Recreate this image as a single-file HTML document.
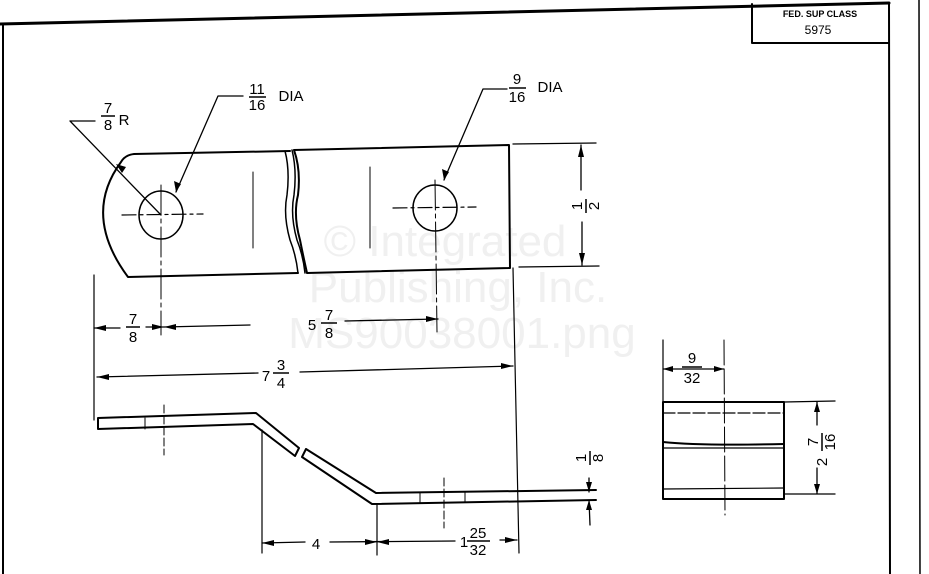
<!DOCTYPE html>
<html><head><meta charset="utf-8"><style>
html,body{margin:0;padding:0;background:#fff;}
svg{display:block;}
text{font-family:"Liberation Sans",sans-serif;fill:#000;}
</style></head><body>
<svg width="929" height="574" viewBox="0 0 929 574" xmlns="http://www.w3.org/2000/svg">
<!-- watermark -->
<g font-size="44" text-anchor="middle">
<text x="445" y="256" style="fill:#f0f0f0">© Integrated</text>
<text x="458" y="302" style="fill:#f0f0f0">Publishing, Inc.</text>
<text x="462" y="348" style="fill:#f0f0f0">MS90038001.png</text>
</g>
<g stroke="#000" fill="none" stroke-linecap="round" stroke-linejoin="round">
<path d="M0,24 L889,3" stroke-width="3"/>
<path d="M3,24 L3,574" stroke-width="2"/>
<path d="M889,3 L890,574" stroke-width="2"/>
<path d="M919,0 L920,574" stroke-width="1.5"/>
<path d="M752,4 L752,43 L889,43" stroke-width="2"/>

<path d="M290,151 L134,154 Q125,155 121,162 Q82,215 128,277 L298,273" stroke-width="2"/>
<path d="M285,151 Q290,170 287,195 Q283,215 290,240 Q296,255 298,273" stroke-width="1.5"/>
<path d="M292,150 Q297,170 294,195 Q290,215 297,240 Q303,255 305,273" stroke-width="1.5"/>
<path d="M294,150 L509,145 L510,268 L307,273 Q303,255 300,240 Q293,215 298,195 Q301,170 294,150" stroke-width="2"/>
<path d="M253,172 L253,248 M370,167 L370,248" stroke-width="1"/>
<ellipse cx="161" cy="215" rx="22" ry="24" stroke-width="1.5"/>
<ellipse cx="435" cy="208" rx="22" ry="23" stroke-width="1.5"/>
<path d="M122,215 L203,214 M393,208 L476,207" stroke-width="1.2" stroke-dasharray="14,4,3,4"/>
<path d="M161,185 L161,335 M435,180 L437,332" stroke-width="1" stroke-dasharray="30,4,4,4"/>

<path d="M70,121 L95,121 M70,121 L161,215" stroke-width="1.3"/>
<path d="M176,192 L218,96 L243,96" stroke-width="1.3"/>
<path d="M444,180 L483,89 L507,89" stroke-width="1.3"/>

<path d="M513,144 L596,143 M519,267 L599,266 M581,145 L581,190 M582,222 L582,265" stroke-width="1.3"/>

<path d="M94,275 L94,420" stroke-width="1.2"/>
<path d="M513,268 L519,553" stroke-width="1.2"/>

<path d="M94,328 L120,328 M146,327 L164,327 L250,325 M345,321 L438,319" stroke-width="1.3"/>
<path d="M97,377 L258,373 M300,372 L513,366" stroke-width="1.3"/>

<path d="M98,418 L256,413 L299,448 M98,418 L98,429 L253,424 L295,456 L299,448" stroke-width="2"/>
<path d="M306,449 L376,493 L596,490 M306,449 L302,457 L372,504 L596,500" stroke-width="2"/>
<path d="M145,418 L145,429 M420,493 L420,503 M465,492 L465,502" stroke-width="1"/>
<path d="M164,405 L164,455 M444,478 L444,528" stroke-width="1" stroke-dasharray="8,3"/>
<path d="M262,430 L262,553 M377,505 L377,555" stroke-width="1.2"/>
<path d="M262,543 L305,542 M330,542 L455,541 M500,540 L517,540" stroke-width="1.3"/>
<path d="M589,478 L589,492 M589,500 L590,525" stroke-width="1.3"/>

<rect x="663" y="402" width="121" height="97" stroke-width="2"/>
<path d="M663,413 L784,413" stroke-width="1.2" stroke-dasharray="12,3"/>
<path d="M663,442 Q700,446 784,444" stroke-width="2"/>
<path d="M663,448 L784,448" stroke-width="1.2"/>
<path d="M663,489 L784,488" stroke-width="1.2"/>
<path d="M663,340 L663,402" stroke-width="1.2"/>
<path d="M724,340 L725,515" stroke-width="1" stroke-dasharray="25,4"/>
<path d="M663,369 L724,369" stroke-width="1.2"/>
<path d="M784,402 L835,401 M784,494 L835,494 M817,402 L817,425 M817,468 L817,494" stroke-width="1.3"/>
</g>

<g fill="#000">
<polygon points="122,173 116,164 126,167"/>
<polygon points="176,192 174,181 181,184"/>
<polygon points="444,180 442,169 449,172"/>
<polygon points="581,145 578,157 584,157"/>
<polygon points="582,265 579,253 585,253"/>
<polygon points="94,328 106,325 106,331"/>
<polygon points="164,327 152,324 152,330"/>
<polygon points="164,327 176,324 176,330"/>
<polygon points="438,319 426,316 426,322"/>
<polygon points="97,377 109,374 109,380"/>
<polygon points="513,366 501,363 501,369"/>
<polygon points="262,543 274,540 274,546"/>
<polygon points="377,542 365,539 365,545"/>
<polygon points="377,542 389,539 389,545"/>
<polygon points="517,540 505,537 505,543"/>
<polygon points="589,492 586,482 592,482"/>
<polygon points="589,500 586,510 592,510"/>
<polygon points="663,369 673,366 673,372"/>
<polygon points="724,369 714,366 714,372"/>
<polygon points="817,402 814,412 820,412"/>
<polygon points="817,494 814,484 820,484"/>
</g>

<text x="820" y="17" font-size="9" font-weight="bold" text-anchor="middle">FED. SUP CLASS</text>
<text x="818" y="34" font-size="12" text-anchor="middle">5975</text>

<g font-size="15" text-anchor="middle">
<text x="108" y="113">7</text><line x1="101" y1="116" x2="115" y2="116" stroke="#000" stroke-width="1.5"/><text x="108" y="130">8</text>
<text x="124" y="125">R</text>

<text x="257" y="94">11</text><line x1="249" y1="97" x2="266" y2="97" stroke="#000" stroke-width="1.5"/><text x="257" y="110">16</text>
<text x="291" y="101">DIA</text>

<text x="517" y="84">9</text><line x1="509" y1="88" x2="526" y2="88" stroke="#000" stroke-width="1.5"/><text x="517" y="102">16</text>
<text x="550" y="92">DIA</text>

<text x="133" y="324">7</text><line x1="126" y1="327" x2="140" y2="327" stroke="#000" stroke-width="1.5"/><text x="133" y="342">8</text>
<text x="312" y="330">5</text>
<text x="329" y="320">7</text><line x1="321" y1="323" x2="337" y2="323" stroke="#000" stroke-width="1.5"/><text x="329" y="338">8</text>

<text x="266" y="381">7</text>
<text x="281" y="370">3</text><line x1="273" y1="373" x2="289" y2="373" stroke="#000" stroke-width="1.5"/><text x="281" y="388">4</text>

<text x="316" y="549">4</text>
<text x="464" y="547">1</text>
<text x="478" y="538">25</text><line x1="467" y1="541" x2="490" y2="541" stroke="#000" stroke-width="1.5"/><text x="478" y="555">32</text>

<text x="692" y="363">9</text><line x1="682" y1="367" x2="702" y2="367" stroke="#000" stroke-width="1.5"/><text x="692" y="383">32</text>

<g transform="translate(586,206) rotate(-90)">
<text x="0" y="-4">1</text><line x1="-7" y1="0" x2="7" y2="0" stroke="#000" stroke-width="1.5"/><text x="0" y="13">2</text>
</g>
<g transform="translate(590,458) rotate(-90)">
<text x="0" y="-4">1</text><line x1="-7" y1="0" x2="7" y2="0" stroke="#000" stroke-width="1.5"/><text x="0" y="13">8</text>
</g>
<g transform="translate(822,446) rotate(-90)">
<text x="-16" y="5">2</text>
<text x="4" y="-4">7</text><line x1="-5" y1="0" x2="13" y2="0" stroke="#000" stroke-width="1.5"/><text x="4" y="13">16</text>
</g>
</g>
</svg>
</body></html>
